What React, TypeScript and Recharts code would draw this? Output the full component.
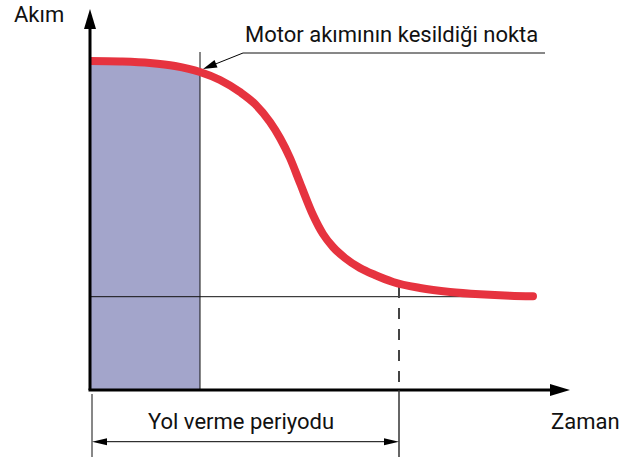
import { ComposedChart, Line, Area, XAxis, YAxis, ReferenceLine } from 'recharts'

// motor current during start-up (time in arbitrary units, current in arbitrary units)
const time = [0, 3, 6, 8.5, 11, 13, 15, 16.5, 18, 19, 20, 21, 22.3, 23.3, 24.3, 25.5, 27, 28.5, 30.3, 33, 36, 39, 42, 44.3]
const current = [32.9, 32.85, 32.7, 32.4, 31.8, 31, 29.8, 28.6, 26.8, 25.2, 23.2, 20.7, 17.5, 15.6, 14.3, 13.2, 12.2, 11.5, 10.8, 10.2, 9.8, 9.57, 9.43, 9.38]

const cutoffTime = 11 // point where motor current is cut
const startEndTime = 30.9 // end of the start-up period
const finalCurrent = 9.33

const labels = {
  yAxis: 'Akım',
  xAxis: 'Zaman',
  cutoff: 'Motor akımının kesildiği nokta',
  period: 'Yol verme periyodu',
}

const data = time.map((t, i) => ({
  t,
  current: current[i],
  shade: t <= cutoffTime ? current[i] : undefined,
}))

const FONT = 'Roboto, "Liberation Sans", sans-serif'
const INK = '#111'

interface ArrowOpts {
  stroke: string
  width: number
  len: number
  half: number
  start?: boolean
  end?: boolean
}

function arrowShape({ stroke, width, len, half, start, end }: ArrowOpts) {
  return (p: any) => {
    const { x1, y1, x2, y2 } = p
    const dx = x2 - x1
    const dy = y2 - y1
    const d = Math.hypot(dx, dy) || 1
    const ux = dx / d
    const uy = dy / d
    const head = (tx: number, ty: number, dir: number) => {
      const bx = tx - dir * ux * len
      const by = ty - dir * uy * len
      return `${tx},${ty} ${bx - uy * half},${by + ux * half} ${bx + uy * half},${by - ux * half}`
    }
    const cut = len * 0.6
    const sx = start ? x1 + ux * cut : x1
    const sy = start ? y1 + uy * cut : y1
    const ex = end ? x2 - ux * cut : x2
    const ey = end ? y2 - uy * cut : y2
    return (
      <g>
        <line x1={sx} y1={sy} x2={ex} y2={ey} stroke={stroke} strokeWidth={width} />
        {start && <polygon points={head(x1, y1, -1)} fill={stroke} />}
        {end && <polygon points={head(x2, y2, 1)} fill={stroke} />}
      </g>
    )
  }
}

export default function App() {
  return (
    <div style={{ position: 'absolute', left: 0, top: 0, width: 628, height: 459, background: '#fff' }}>
      <ComposedChart
        width={628}
        height={459}
        data={data}
        margin={{ top: 10, right: 58, bottom: 69, left: 90 }}
      >
        <XAxis dataKey="t" type="number" domain={[0, 48]} allowDataOverflow hide />
        <YAxis type="number" domain={[0, 38]} allowDataOverflow hide />

        <Area
          dataKey="shade"
          type="monotone"
          fill="#a3a5cb"
          fillOpacity={1}
          stroke="none"
          baseValue={0}
          isAnimationActive={false}
          dot={false}
          activeDot={false}
        />

        {/* cut-off marker and steady-state level */}
        <ReferenceLine
          segment={[{ x: cutoffTime, y: 0 }, { x: cutoffTime, y: 33.8 }]}
          stroke={INK}
          strokeWidth={1}
        />
        <ReferenceLine
          segment={[{ x: 0, y: finalCurrent }, { x: 44, y: finalCurrent }]}
          stroke={INK}
          strokeWidth={1}
        />
        <ReferenceLine
          segment={[{ x: startEndTime, y: 10.3 }, { x: startEndTime, y: 0 }]}
          stroke="#444"
          strokeWidth={2}
          strokeDasharray="11 10"
        />

        <Line
          dataKey="current"
          type="monotone"
          stroke="#e6333f"
          strokeWidth={8}
          strokeLinecap="round"
          dot={false}
          activeDot={false}
          isAnimationActive={false}
        />

        {/* axes with arrow heads */}
        <ReferenceLine
          segment={[{ x: -0.15, y: 0 }, { x: 48, y: 0 }]}
          ifOverflow="visible"
          shape={arrowShape({ stroke: '#000', width: 3, len: 20, half: 6, end: true })}
        />
        <ReferenceLine
          segment={[{ x: 0, y: 0 }, { x: 0, y: 38.1 }]}
          ifOverflow="visible"
          shape={arrowShape({ stroke: '#000', width: 3, len: 20, half: 6, end: true })}
        />

        {/* annotation leader */}
        <ReferenceLine
          segment={[{ x: 15.3, y: 33.7 }, { x: 11.3, y: 32.1 }]}
          ifOverflow="visible"
          shape={arrowShape({ stroke: '#000', width: 1, len: 14, half: 4, end: true })}
        />
        <ReferenceLine
          segment={[{ x: 15.3, y: 33.7 }, { x: 45.5, y: 33.7 }]}
          ifOverflow="visible"
          stroke={INK}
          strokeWidth={1}
        />

        {/* start-up period dimension */}
        <ReferenceLine
          segment={[{ x: 0.2, y: -0.4 }, { x: 0.2, y: -6.7 }]}
          ifOverflow="visible"
          stroke={INK}
          strokeWidth={1}
        />
        <ReferenceLine
          segment={[{ x: startEndTime, y: 0 }, { x: startEndTime, y: -6.7 }]}
          ifOverflow="visible"
          stroke="#333"
          strokeWidth={1.5}
        />
        <ReferenceLine
          segment={[{ x: 0.2, y: -5.17 }, { x: startEndTime, y: -5.17 }]}
          ifOverflow="visible"
          shape={arrowShape({ stroke: '#000', width: 1, len: 15, half: 3.5, start: true, end: true })}
        />

        <text x={14} y={22} fontFamily={FONT} fontSize={22} fill={INK}>
          {labels.yAxis}
        </text>
        <text x={551} y={429} fontFamily={FONT} fontSize={22} fill={INK}>
          {labels.xAxis}
        </text>
        <text x={245} y={42} fontFamily={FONT} fontSize={22} fill={INK}>
          {labels.cutoff}
        </text>
        <text x={148} y={429} fontFamily={FONT} fontSize={22} fill={INK}>
          {labels.period}
        </text>
      </ComposedChart>
    </div>
  )
}
